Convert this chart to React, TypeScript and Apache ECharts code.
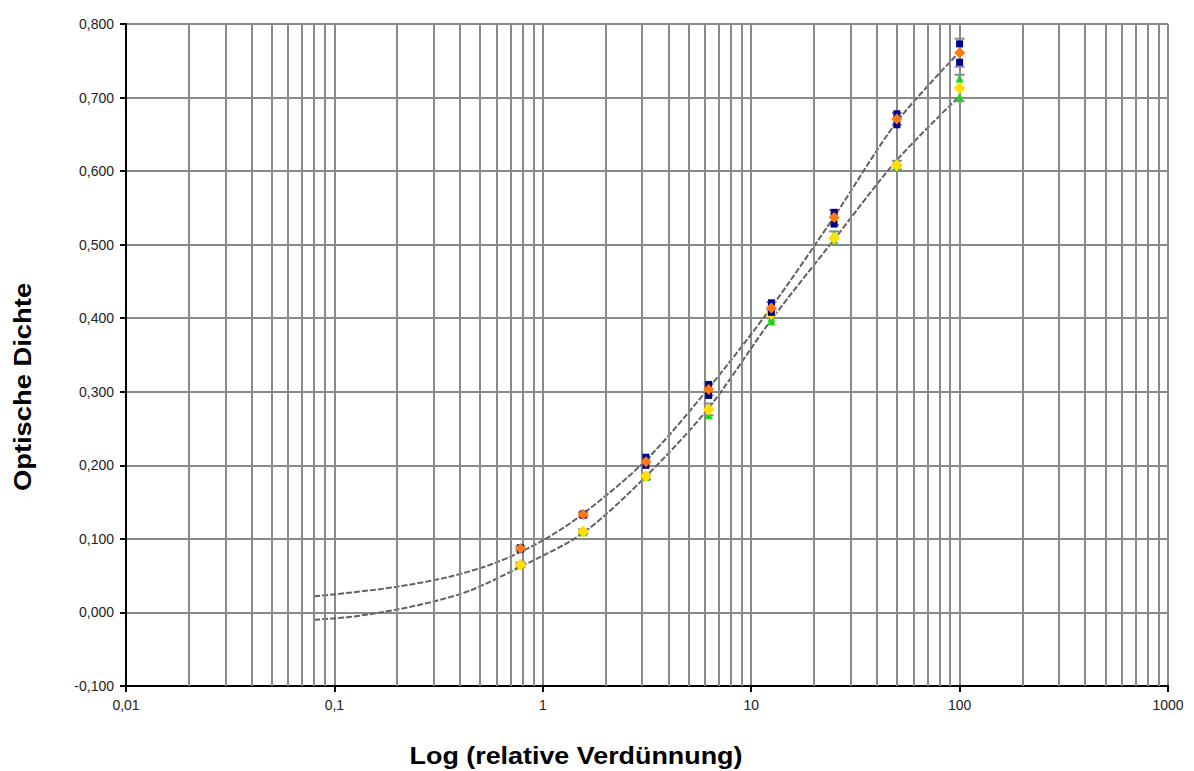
import React, { useEffect, useRef } from "react";
import * as echarts from "echarts";

// relative dilution (x) of the measured points
const dilutions = [0.78125, 1.5625, 3.125, 6.25, 12.5, 25, 50, 100];
// optical density readings
const blueHigh = [0.088, 0.134, 0.211, 0.31, 0.421, 0.544, 0.678, 0.773];
const orangeMean = [0.087, 0.133, 0.205, 0.303, 0.414, 0.537, 0.671, 0.761];
const blueLow = [0.086, 0.132, 0.2, 0.295, 0.408, 0.528, 0.663, 0.748];
const greenHigh = [0.066, 0.111, 0.186, 0.28, 0.4, 0.515, 0.61, 0.726];
const yellowMean = [0.065, 0.11, 0.185, 0.276, 0.406, 0.509, 0.608, 0.713];
const greenLow = [0.064, 0.109, 0.184, 0.268, 0.396, 0.507, 0.606, 0.701];
const errOrange = [0.003, 0.003, 0.006, 0.008, 0.008, 0.01, 0.008, 0.019];
const errYellow = [0.003, 0.003, 0.004, 0.008, 0.006, 0.009, 0.006, 0.018];

// fitted curves
const fitUpperX = [0.08, 0.12, 0.2, 0.35, 0.6, 1, 1.56, 3.125, 6.25, 12.5, 25, 50, 100];
const fitUpperY = [0.022, 0.027, 0.035, 0.048, 0.068, 0.098, 0.134, 0.207, 0.305, 0.415, 0.538, 0.667, 0.762];
const fitLowerX = [0.08, 0.12, 0.2, 0.3, 0.45, 0.78, 1.56, 3.125, 6.25, 12.5, 25, 50, 100];
const fitLowerY = [-0.01, -0.006, 0.004, 0.015, 0.03, 0.062, 0.108, 0.185, 0.278, 0.398, 0.507, 0.615, 0.702];

const xTickLabels = ["0,01", "0,1", "1", "10", "100", "1000"];
const minorMultipliers = [2, 3, 4, 5, 6, 7, 8, 9];
const decades = [0.01, 0.1, 1, 10, 100];

const FONT = "'Liberation Sans', Arial, sans-serif";
const GRID_COLOR = "#8a8a8a";

function pairs(xs: number[], ys: number[]) {
  return xs.map((x, i) => [x, ys[i]]);
}

export default function App() {
  const ref = useRef<HTMLDivElement>(null);
  useEffect(() => {
    if (!ref.current) return;
    const chart = echarts.init(ref.current, null, { renderer: "svg" });
    const minorLines: any[] = [];
    decades.forEach((d) => minorMultipliers.forEach((m) => minorLines.push({ xAxis: d * m })));

    const errSeries = (vals: number[], errs: number[]) => ({
      type: "custom",
      z: 3,
      silent: true,
      data: dilutions.map((x, i) => [x, vals[i], errs[i]]),
      renderItem: (params: any, api: any) => {
        const x = api.value(0);
        const y = api.value(1);
        const e = api.value(2);
        const top = api.coord([x, y + e]);
        const bot = api.coord([x, y - e]);
        const w = 5;
        const style = { stroke: "#8a8a8a", lineWidth: 2 };
        return {
          type: "group",
          children: [
            { type: "line", shape: { x1: top[0], y1: top[1], x2: bot[0], y2: bot[1] }, style },
            { type: "line", shape: { x1: top[0] - w, y1: top[1], x2: top[0] + w, y2: top[1] }, style },
            { type: "line", shape: { x1: bot[0] - w, y1: bot[1], x2: bot[0] + w, y2: bot[1] }, style },
          ],
        };
      },
    });

    const scatter = (vals: number[], color: string, symbol: string, size: number, z: number) => ({
      type: "scatter",
      z,
      symbol,
      symbolSize: size,
      itemStyle: { color, opacity: 1 },
      data: pairs(dilutions, vals),
    });

    const fitLine = (xs: number[], ys: number[]) => ({
      type: "line",
      z: 2,
      smooth: 0.3,
      symbol: "none",
      lineStyle: { color: "#626262", width: 2, type: [6, 2] },
      data: pairs(xs, ys),
    });

    chart.setOption({
      animation: false,
      grid: { left: 126, right: 26, top: 24, bottom: 85, containLabel: false },
      xAxis: {
        type: "log",
        logBase: 10,
        min: 0.01,
        max: 1000,
        axisLine: { show: true, onZero: false, lineStyle: { color: "#000", width: 2 } },
        axisTick: { show: true, inside: false, length: 6, lineStyle: { color: "#000", width: 2 } },
        axisLabel: {
          color: "#222",
          fontFamily: FONT,
          fontSize: 14,
          margin: 12,
          formatter: (v: number) => xTickLabels[Math.round(Math.log10(v)) + 2],
        },
        splitLine: { show: true, lineStyle: { color: GRID_COLOR, width: 2 } },
      },
      yAxis: {
        type: "value",
        min: -0.1,
        max: 0.8,
        interval: 0.1,
        axisLine: { show: true, lineStyle: { color: "#000", width: 2 } },
        axisTick: { show: true, inside: false, length: 6, lineStyle: { color: "#000", width: 2 } },
        axisLabel: {
          color: "#222",
          fontFamily: FONT,
          fontSize: 14,
          margin: 12,
          formatter: (v: number) => (Math.round(v * 1000) / 1000).toFixed(3).replace(".", ","),
        },
        splitLine: { show: true, lineStyle: { color: GRID_COLOR, width: 2 } },
      },
      graphic: [
        {
          type: "text",
          x: 576,
          y: 756,
          scaleX: 1.12,
          style: {
            text: "Log (relative Verdünnung)",
            font: `bold 24px ${FONT}`,
            fill: "#000",
            align: "center",
            verticalAlign: "middle",
          },
        },
        {
          type: "text",
          x: 23,
          y: 387,
          rotation: Math.PI / 2,
          scaleX: 1.14,
          style: {
            text: "Optische Dichte",
            font: `bold 24px ${FONT}`,
            fill: "#000",
            align: "center",
            verticalAlign: "middle",
          },
        },
      ],
      series: [
        {
          type: "line",
          z: 1,
          data: [],
          silent: true,
          markLine: {
            silent: true,
            symbol: ["none", "none"],
            label: { show: false },
            lineStyle: { color: GRID_COLOR, width: 2, type: "solid" },
            emphasis: { disabled: true },
            data: minorLines,
          },
        },
        fitLine(fitUpperX, fitUpperY),
        fitLine(fitLowerX, fitLowerY),
        errSeries(orangeMean, errOrange),
        errSeries(yellowMean, errYellow),
        scatter(greenLow, "#18d818", "triangle", 8, 4),
        scatter(greenHigh, "#18d818", "triangle", 8, 4),
        scatter(yellowMean, "#ffe000", "diamond", 12, 5),
        scatter(blueHigh, "#000090", "rect", 7, 6),
        scatter(blueLow, "#000090", "rect", 7, 6),
        scatter(orangeMean, "#ff7a10", "diamond", 11, 7),
      ],
    });
    return () => chart.dispose();
  }, []);
  return (
    <div
      ref={ref}
      style={{ position: "fixed", left: 0, top: 0, width: 1194, height: 771, background: "#fff" }}
    />
  );
}
